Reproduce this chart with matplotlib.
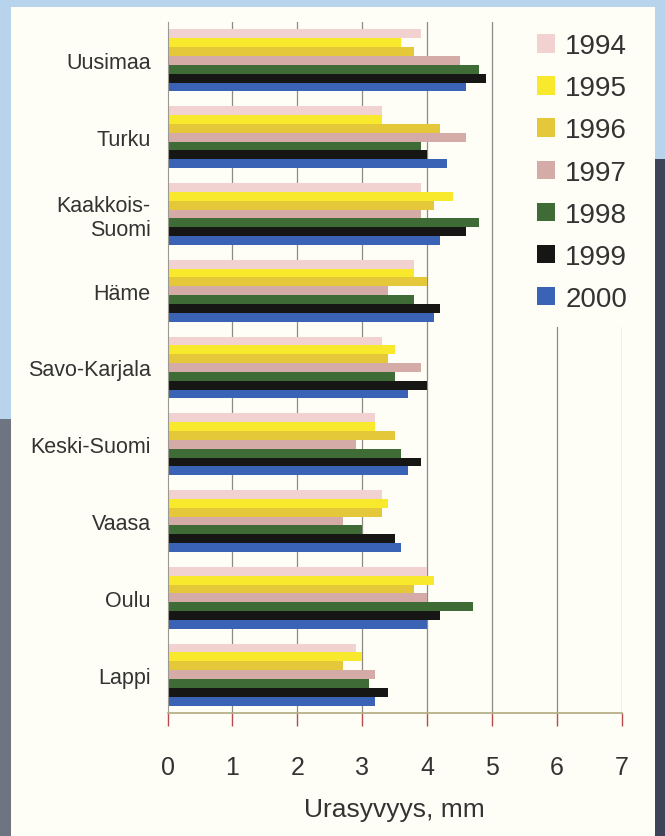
import numpy as np
import matplotlib
matplotlib.use("Agg")
import matplotlib.pyplot as plt
from matplotlib.patches import Rectangle

plt.rcParams['font.family'] = ['Liberation Sans', 'DejaVu Sans']

# ---------------------------------------------------------------------------
# data: mean rut depth (mm) per road district and year
# ---------------------------------------------------------------------------

regions = ['Uusimaa', 'Turku', 'Kaakkois-\nSuomi', 'Häme', 'Savo-Karjala',
           'Keski-Suomi', 'Vaasa', 'Oulu', 'Lappi']
years = ['1994', '1995', '1996', '1997', '1998', '1999', '2000']

v1994 = [3.9, 3.3, 3.9, 3.8, 3.3, 3.2, 3.3, 4.0, 2.9]
v1995 = [3.6, 3.3, 4.4, 3.8, 3.5, 3.2, 3.4, 4.1, 3.0]
v1996 = [3.8, 4.2, 4.1, 4.0, 3.4, 3.5, 3.3, 3.8, 2.7]
v1997 = [4.5, 4.6, 3.9, 3.4, 3.9, 2.9, 2.7, 4.0, 3.2]
v1998 = [4.8, 3.9, 4.8, 3.8, 3.5, 3.6, 3.0, 4.7, 3.1]
v1999 = [4.9, 4.0, 4.6, 4.2, 4.0, 3.9, 3.5, 4.2, 3.4]
v2000 = [4.6, 4.3, 4.2, 4.1, 3.7, 3.7, 3.6, 4.0, 3.2]

series = [v1994, v1995, v1996, v1997, v1998, v1999, v2000]
colours = ['#f2d2d0', '#f8e92c', '#e5c83a', '#d5aba8', '#3f6b36', '#161614', '#3a63b6']

xticks = [0, 1, 2, 3, 4, 5, 6, 7]

# ---------------------------------------------------------------------------
# figure with a light panel on a blue backdrop
# ---------------------------------------------------------------------------

W, H = 665, 837
fig = plt.figure(figsize=(W / 100, H / 100), dpi=100, facecolor='#b8d4ec')

panel = '#fefef6'
fig.patches.append(Rectangle((0, 0), 11 / W, (H - 420) / H, transform=fig.transFigure,
                             facecolor='#6e7480', edgecolor='none', zorder=-2))
fig.patches.append(Rectangle((655 / W, 0), 10 / W, (H - 160) / H, transform=fig.transFigure,
                             facecolor='#3d4458', edgecolor='none', zorder=-2))
fig.patches.append(Rectangle((11 / W, 0), 644 / W, (H - 8) / H, transform=fig.transFigure,
                             facecolor=panel, edgecolor='none', zorder=-1))

ax = fig.add_axes([167.5 / W, (H - 714) / H, 454.4 / W, 691 / H])
ax.set_facecolor('none')

group = 0.807
bh = group / len(years)
centers = np.arange(len(regions))

for j, (vals, col, yr) in enumerate(zip(series, colours, years)):
    ypos = centers - group / 2 + (j + 0.5) * bh
    ax.barh(ypos, vals, height=bh, color=col, edgecolor='none', label=yr, zorder=2)

ax.set_xlim(0, 7)
ax.set_ylim(len(regions) - 0.5, -0.5)

# vertical grid lines behind the bars
for x in xticks[1:]:
    ax.axvline(x, color='#8c8c84', lw=0.9, zorder=1)

ax.set_xticks(xticks)
ax.set_xticklabels([str(x) for x in xticks], fontsize=18, color='#333333')
ax.tick_params(axis='x', direction='out', length=9, width=1, color='#b84a4a', pad=21)
ax.set_yticks(centers)
ax.set_yticklabels(regions, fontsize=15.5, color='#333333', ha='right',
                   multialignment='right', linespacing=1.15)
ax.tick_params(axis='y', length=0, pad=12)

for s in ['top', 'right']:
    ax.spines[s].set_visible(False)
ax.spines['left'].set_color('#9a9a92')
ax.spines['bottom'].set_color('#b0aa80')
ax.spines['bottom'].set_linewidth(1.2)

ax.set_xlabel('Urasyvyys, mm', fontsize=19, color='#333333', labelpad=13)

# legend box hides the upper part of the 6 and 7 grid lines
leg = fig.legend(loc='upper left', bbox_to_anchor=(522 / W, 1 - 19 / H),
                 fontsize=20, frameon=True, fancybox=False, borderaxespad=0,
                 borderpad=0.55, handlelength=0.65, handleheight=0.65,
                 handletextpad=0.36, labelspacing=0.58)
leg.get_frame().set_facecolor(panel)
leg.get_frame().set_edgecolor('none')
leg.get_frame().set_alpha(1)
for t in leg.get_texts():
    t.set_color('#333333')

fig.savefig('out.png', dpi=100, facecolor=fig.get_facecolor())
